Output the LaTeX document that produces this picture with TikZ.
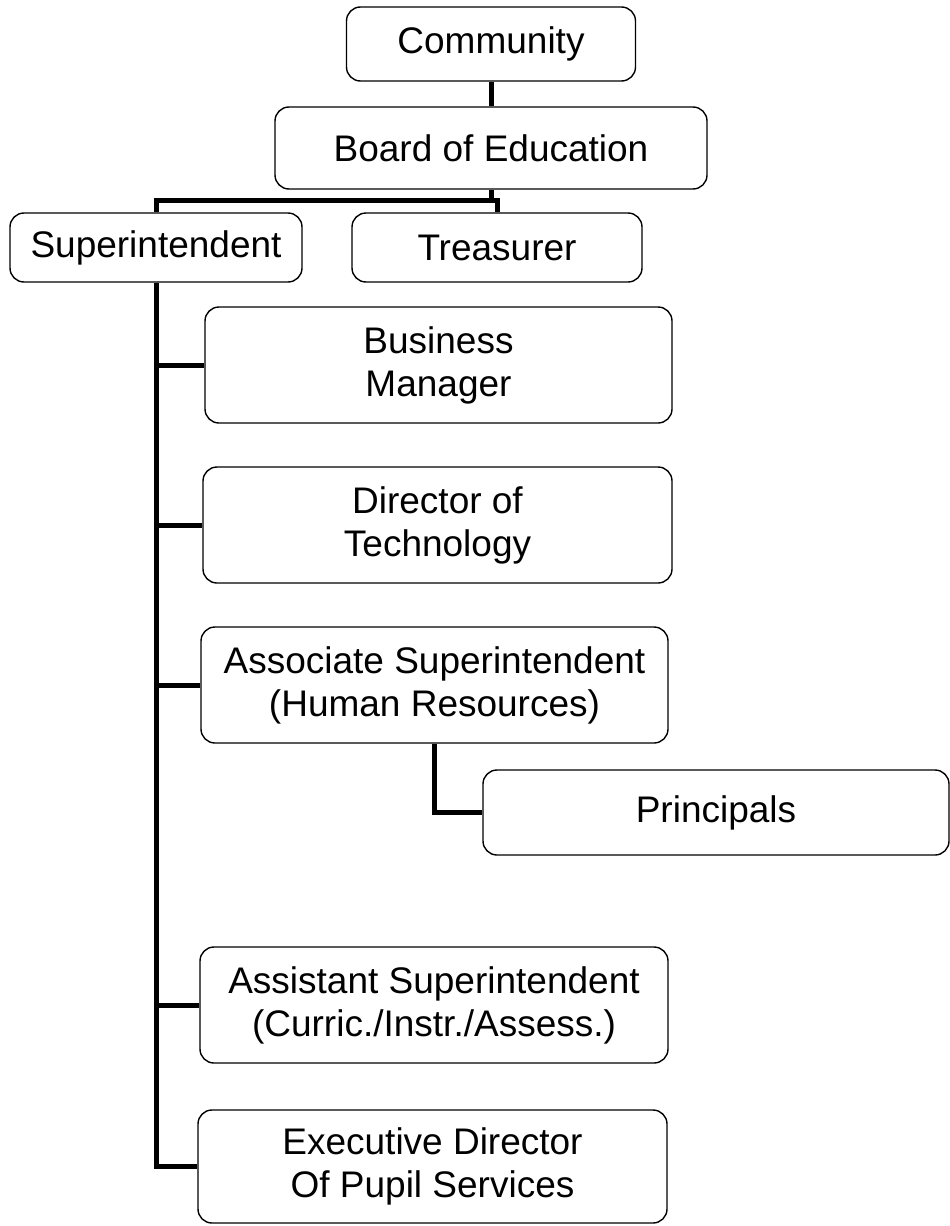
\documentclass[tikz,border=0pt]{standalone}
\usepackage{fontspec}
\setmainfont{Liberation Sans}
\begin{document}
\begin{tikzpicture}[x=1pt,y=-1pt,
  box/.style={draw=black, line width=1.4pt, rounded corners=14pt, align=center,
    inner sep=0pt, font=\fontsize{37}{43}\selectfont},
  link/.style={line width=5pt, line join=miter}]
\useasboundingbox (0,0) rectangle (950,1226);
\node[box, minimum width=289pt, minimum height=74pt] (comm) at (491,44) {Community};
\node[box, minimum width=432pt, minimum height=82pt] (board) at (491,148) {Board of Education};
\node[box, minimum width=292pt, minimum height=69pt] (sup) at (156,247.5) {Superintendent};
\node[box, minimum width=290pt, minimum height=69pt] (tre) at (497,247.5) {Treasurer};
\node[box, minimum width=467pt, minimum height=116pt] (bm) at (438.5,365) {Business\\Manager};
\node[box, minimum width=469pt, minimum height=116pt] (dt) at (437.5,525) {Director of\\Technology};
\node[box, minimum width=467pt, minimum height=116pt] (asc) at (434.5,685) {Associate Superintendent\\(Human Resources)};
\node[box, minimum width=466pt, minimum height=85pt] (prin) at (716,812.5) {Principals};
\node[box, minimum width=468pt, minimum height=116pt] (ast) at (434,1005) {Assistant Superintendent\\(Curric./Instr./Assess.)};
\node[box, minimum width=469pt, minimum height=113pt] (exe) at (432.5,1166.5) {Executive Director\\Of Pupil Services};
\coordinate (bus) at (491,200);
\draw[link] (comm) -- (board);
\draw[link] (board.south) -- (bus) -| (sup.north);
\draw[link] (bus) -| (tre.north);
\draw[link] (sup.south) |- (exe.west);
\draw[link] (sup.south |- bm.west) -- (bm.west);
\draw[link] (sup.south |- dt.west) -- (dt.west);
\draw[link] (sup.south |- asc.west) -- (asc.west);
\draw[link] (sup.south |- ast.west) -- (ast.west);
\draw[link] (asc.south) |- (prin.west);
\end{tikzpicture}
\end{document}
